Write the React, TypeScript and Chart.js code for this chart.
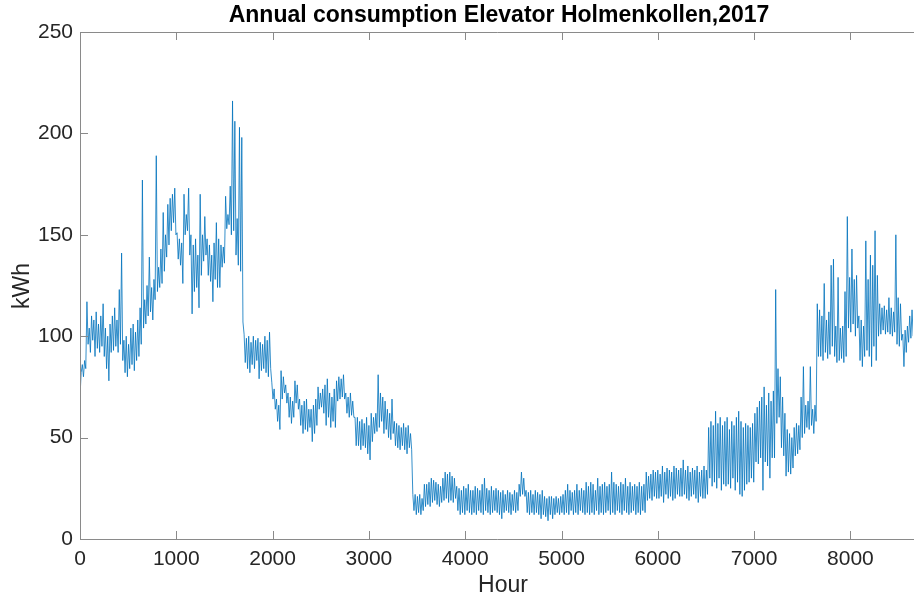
import React, { useEffect, useRef } from "react";
import { Chart, registerables } from "chart.js";

Chart.register(...registerables);

const TITLE = "Annual consumption Elevator Holmenkollen,2017";
const X_LABEL = "Hour";
const Y_LABEL = "kWh";
const X_TICKS = [0, 1000, 2000, 3000, 4000, 5000, 6000, 7000, 8000];
const Y_TICKS = [0, 50, 100, 150, 200, 250];
const X_MIN = 0;
const X_MAX = 8650;
const Y_MIN = 0;
const Y_MAX = 250;
const DAY_HOURS = 24;
const LOW_OFFSET_HOURS = 12;

// Daily peak kWh (one per day, at the start of the day)
const dailyPeak = [
  70, 86, 88, 117, 104, 110, 108, 112, 106, 110,
  116, 104, 100, 106, 110, 114, 108, 123, 141, 98,
  100, 96, 104, 106, 102, 108, 114, 177, 118, 125,
  139, 124, 128, 189, 134, 143, 161, 150, 165, 168,
  170, 173, 151, 148, 146, 170, 160, 173, 150, 145,
  148, 140, 170, 150, 159, 148, 145, 140, 146, 156,
  148, 145, 144, 169, 160, 174, 216, 206, 158, 203,
  198, 101, 99, 100, 97, 100, 98, 99, 97, 96,
  100, 98, 102, 77, 74, 69, 66, 83, 80, 76,
  72, 70, 68, 78, 76, 69, 66, 68, 69, 64,
  64, 66, 69, 75, 72, 74, 76, 79, 72, 70,
  74, 78, 80, 79, 81, 72, 70, 72, 68, 60,
  60, 58, 59, 57, 60, 56, 62, 60, 62, 81,
  72, 70, 68, 64, 62, 69, 58, 57, 56, 55,
  57, 55, 56, 52, 22, 22, 21, 22, 20, 27,
  27, 28, 30, 29, 28, 27, 26, 30, 33, 32,
  33, 31, 30, 26, 25, 24, 26, 25, 27, 24,
  24, 26, 25, 24, 27, 30, 25, 24, 26, 24,
  25, 24, 23, 24, 22, 24, 23, 22, 24, 23,
  27, 33, 30, 24, 23, 24, 22, 24, 23, 22,
  24, 21, 20, 21, 21, 20, 21, 20, 21, 22,
  24, 27, 24, 23, 24, 27, 24, 25, 24, 28,
  26, 28, 27, 24, 30, 26, 27, 28, 26, 27,
  33, 28, 27, 26, 28, 27, 30, 26, 28, 26,
  27, 26, 28, 26, 27, 33, 31, 32, 34, 33,
  34, 32, 36, 33, 35, 34, 33, 36, 35, 34,
  35, 39, 34, 36, 33, 35, 34, 36, 33, 34,
  36, 34, 55, 58, 56, 63, 57, 60, 56, 58,
  60, 54, 58, 56, 60, 63, 58, 55, 57, 56,
  55, 57, 62, 65, 68, 70, 75, 66, 72, 68,
  73, 123, 84, 80, 70, 62, 54, 52, 50, 55,
  57, 56, 70, 85, 66, 68, 85, 64, 66, 116,
  113, 110, 126, 108, 112, 135, 138, 105, 129, 104,
  105, 122, 159, 129, 143, 128, 130, 110, 108, 105,
  147, 128, 140, 135, 152, 130, 116, 114, 115, 113,
  119, 114, 112, 150, 119, 116, 101, 103, 105, 110,
  113,
];

// Daily low kWh (one per day, at mid-day)
const dailyLow = [
  82, 80, 84, 96, 92, 98, 90, 94, 92, 95,
  90, 84, 78, 92, 93, 95, 92, 96, 88, 82,
  80, 84, 86, 83, 88, 90, 96, 104, 106, 110,
  112, 108, 118, 122, 124, 126, 132, 139, 145, 152,
  156, 150, 138, 135, 126, 150, 152, 140, 111, 122,
  124, 114, 130, 137, 140, 130, 127, 117, 128, 124,
  124, 134, 136, 153, 155, 150, 152, 140, 135, 132,
  107, 87, 84, 82, 86, 84, 88, 79, 83, 84,
  82, 80, 84, 69, 64, 58, 54, 69, 72, 67,
  60, 57, 60, 67, 64, 56, 52, 54, 53, 55,
  48, 52, 56, 64, 65, 62, 56, 60, 55, 58,
  55, 68, 69, 70, 69, 62, 60, 61, 60, 46,
  46, 44, 46, 45, 42, 39, 48, 52, 53, 55,
  58, 52, 54, 50, 49, 52, 46, 45, 44, 46,
  44, 42, 45, 44, 14, 12, 13, 12, 14, 16,
  17, 16, 18, 19, 17, 16, 18, 19, 20, 18,
  19, 18, 20, 14, 12, 13, 12, 14, 13, 12,
  13, 12, 14, 13, 12, 14, 13, 12, 13, 14,
  13, 12, 10, 13, 14, 13, 12, 14, 13, 14,
  21, 22, 21, 13, 12, 13, 12, 13, 12, 10,
  12, 11, 9, 12, 10, 12, 13, 12, 13, 12,
  13, 12, 14, 12, 13, 12, 14, 13, 12, 13,
  12, 13, 12, 14, 12, 13, 12, 13, 14, 12,
  13, 12, 14, 13, 12, 14, 13, 12, 13, 14,
  12, 13, 12, 14, 13, 19, 20, 19, 21, 20,
  20, 21, 18, 22, 20, 21, 19, 20, 22, 21,
  21, 22, 20, 19, 21, 22, 20, 18, 21, 20,
  20, 22, 30, 26, 28, 25, 30, 24, 27, 26,
  27, 25, 30, 24, 28, 22, 21, 24, 27, 28,
  30, 28, 38, 37, 40, 24, 38, 36, 30, 40,
  40, 57, 60, 45, 41, 31, 33, 32, 35, 41,
  42, 44, 50, 52, 55, 54, 56, 52, 58, 90,
  90, 88, 92, 89, 91, 95, 90, 87, 88, 89,
  87, 90, 104, 102, 106, 100, 104, 88, 85, 90,
  93, 90, 85, 95, 88, 100, 101, 103, 101, 102,
  101, 100, 102, 96, 95, 98, 85, 92, 97, 99,
  100,
];

const LINE_COLOR = "#0072BD";
const AXIS_COLOR = "#8a8a8a";
const TEXT_COLOR = "#262626";
const FONT = "'Liberation Sans', Arial, Helvetica, sans-serif";

const framePlugin = {
  id: "matlabFrame",
  afterDraw(chart: any) {
    const { ctx, chartArea } = chart;
    const { left, right, top, bottom } = chartArea;
    const xs = chart.scales.x;
    const ys = chart.scales.y;
    ctx.save();
    ctx.strokeStyle = AXIS_COLOR;
    ctx.lineWidth = 1;
    ctx.beginPath();
    ctx.moveTo(left + 0.5, top + 0.5);
    ctx.lineTo(right + 2, top + 0.5);
    ctx.moveTo(left + 0.5, top);
    ctx.lineTo(left + 0.5, bottom + 0.5);
    ctx.lineTo(right + 2, bottom + 0.5);
    const TL = 8;
    X_TICKS.forEach((v) => {
      const px = Math.round(xs.getPixelForValue(v)) + 0.5;
      ctx.moveTo(px, bottom);
      ctx.lineTo(px, bottom - TL);
      ctx.moveTo(px, top);
      ctx.lineTo(px, top + TL);
    });
    Y_TICKS.forEach((v) => {
      const py = Math.round(ys.getPixelForValue(v)) + 0.5;
      ctx.moveTo(left, py);
      ctx.lineTo(left + TL, py);
    });
    ctx.stroke();

    ctx.fillStyle = "#000";
    ctx.font = `bold 23px ${FONT}`;
    ctx.textAlign = "center";
    ctx.textBaseline = "middle";
    ctx.fillText(TITLE, 499, 16);

    ctx.fillStyle = TEXT_COLOR;
    ctx.font = `23px ${FONT}`;
    ctx.fillText(X_LABEL, 503, 586);
    ctx.translate(23, 286);
    ctx.rotate(-Math.PI / 2);
    ctx.fillText(Y_LABEL, 0, 0);
    ctx.restore();
  },
};

export default function App() {
  const ref = useRef<HTMLCanvasElement | null>(null);
  useEffect(() => {
    document.body.style.margin = "0";
    const canvas = ref.current;
    if (!canvas) return;
    const points: { x: number; y: number }[] = [];
    dailyPeak.forEach((v, i) => {
      points.push({ x: i * DAY_HOURS, y: v });
      if (i < dailyLow.length) {
        points.push({ x: i * DAY_HOURS + LOW_OFFSET_HOURS, y: dailyLow[i] });
      }
    });
    const chart = new Chart(canvas, {
      type: "line",
      data: {
        datasets: [
          {
            data: points,
            borderColor: LINE_COLOR,
            borderWidth: 0.8,
            pointRadius: 0,
            tension: 0,
            fill: false,
          },
        ],
      },
      options: {
        animation: false,
        responsive: false,
        maintainAspectRatio: false,
        layout: { padding: { top: 32, right: 1, left: 0, bottom: 0 } },
        plugins: {
          legend: { display: false },
          tooltip: { enabled: false },
          title: { display: false },
        },
        scales: {
          x: {
            type: "linear",
            min: X_MIN,
            max: X_MAX,
            afterBuildTicks: (s: any) => {
              s.ticks = X_TICKS.map((v) => ({ value: v }));
            },
            afterFit: (s: any) => {
              s.height = 62;
            },
            grid: { display: false, drawTicks: false },
            border: { display: false },
            ticks: {
              padding: 8,
              maxRotation: 0,
              autoSkip: false,
              color: TEXT_COLOR,
              font: { family: FONT, size: 21 },
              callback: (v: any) => String(v),
            },
          },
          y: {
            type: "linear",
            min: Y_MIN,
            max: Y_MAX,
            afterBuildTicks: (s: any) => {
              s.ticks = Y_TICKS.map((v) => ({ value: v }));
            },
            afterFit: (s: any) => {
              s.width = 80;
            },
            grid: { display: false, drawTicks: false },
            border: { display: false },
            ticks: {
              padding: 7,
              autoSkip: false,
              color: TEXT_COLOR,
              font: { family: FONT, size: 21 },
              callback: (v: any) => String(v),
            },
          },
        },
      },
      plugins: [framePlugin],
    });
    return () => chart.destroy();
  }, []);
  return (
    <div style={{ width: 914, height: 601 }}>
      <canvas ref={ref} width={914} height={601} style={{ display: "block", width: 914, height: 601 }} />
    </div>
  );
}
